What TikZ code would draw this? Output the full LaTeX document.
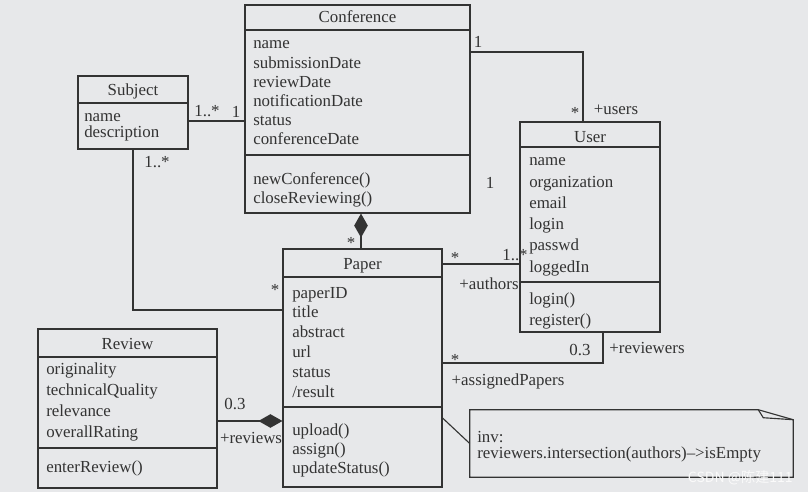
\documentclass[tikz,border=0pt]{standalone}
\usepackage{fontspec}
\setmainfont{Liberation Serif}
\newfontfamily\cjkfont{Noto Sans CJK SC}
\usetikzlibrary{arrows.meta, fit, calc}
\definecolor{ink}{HTML}{333333}
\definecolor{sheet}{HTML}{E7E8EA}
\definecolor{mark}{HTML}{FAFAFA}

\begin{document}
\begin{tikzpicture}[x=0.025cm, y=-0.025cm,
    classbox/.style={draw=ink, line width=0.8pt, inner sep=0pt, fit={#1}},
    txt/.style={font=\fontsize{12}{14}\selectfont, text=ink, inner sep=0pt, anchor=base west},
    ctitle/.style={txt, anchor=base},
    mult/.style={txt, anchor=base},
    sep/.style={draw=ink, line width=0.8pt},
    assoc/.style={draw=ink, line width=1.1pt},
    comp/.style={assoc, -{Diamond[length=0.6cm, width=0.34cm]}}]
  \fill[sheet] (0,0) rectangle (808,492);
  \useasboundingbox (0,0) rectangle (808,492);

  % Conference
  \node[classbox={(245,5) (470,213)}] (conf) {};
  \node[ctitle] (conf-t) at (357.5,22.5) {Conference};
  \draw[sep] (conf.west |- 0,30) -- (conf.east |- 0,30);
  \draw[sep] (conf.west |- 0,155) -- (conf.east |- 0,155);
  \foreach \t [count=\i from 0] in {name, submissionDate, reviewDate,
      notificationDate, status, conferenceDate}
    \node[txt] (conf-a\i) at (253,49+19.2*\i) {\t};
  \foreach \t [count=\i from 0] in {newConference(), closeReviewing()}
    \node[txt] (conf-m\i) at (253,185+18*\i) {\t};

  % Subject
  \node[classbox={(78,76) (188,149)}] (subj) {};
  \node[ctitle] (subj-t) at (133,95.5) {Subject};
  \draw[sep] (subj.west |- 0,103) -- (subj.east |- 0,103);
  \foreach \t [count=\i from 0] in {name, description}
    \node[txt] (subj-a\i) at (84,122+16*\i) {\t};

  % User
  \node[classbox={(520,122) (660,332)}] (user) {};
  \node[ctitle] (user-t) at (590,142.5) {User};
  \draw[sep] (user.west |- 0,147) -- (user.east |- 0,147);
  \draw[sep] (user.west |- 0,282) -- (user.east |- 0,282);
  \foreach \t [count=\i from 0] in {name, organization, email, login,
      passwd, loggedIn}
    \node[txt] (user-a\i) at (529,166+21.2*\i) {\t};
  \foreach \t [count=\i from 0] in {login(), register()}
    \node[txt] (user-m\i) at (529,304+21*\i) {\t};

  % Paper
  \node[classbox={(283,249) (442,487)}] (paper) {};
  \node[ctitle] (paper-t) at (362.5,269.5) {Paper};
  \draw[sep] (paper.west |- 0,277) -- (paper.east |- 0,277);
  \draw[sep] (paper.west |- 0,407) -- (paper.east |- 0,407);
  \foreach \t [count=\i from 0] in {paperID, title, abstract, url,
      status, /result}
    \node[txt] (paper-a\i) at (292,298+19.8*\i) {\t};
  \foreach \t [count=\i from 0] in {upload(), assign(), updateStatus()}
    \node[txt] (paper-m\i) at (292,435+19*\i) {\t};

  % Review
  \node[classbox={(38,329) (217,488)}] (review) {};
  \node[ctitle] (review-t) at (127.5,349.5) {Review};
  \draw[sep] (review.west |- 0,357) -- (review.east |- 0,357);
  \draw[sep] (review.west |- 0,448) -- (review.east |- 0,448);
  \foreach \t [count=\i from 0] in {originality, technicalQuality,
      relevance, overallRating}
    \node[txt] (review-a\i) at (46,374+21*\i) {\t};
  \node[txt] (review-m0) at (46,472) {enterReview()};

  % constraint note
  \node[inner sep=0pt, fit={(470,410) (793,477)}] (note) {};
  \draw[sep] (note.north west) -- ([xshift=-0.875cm]note.north east)
    -- ([yshift=-0.25cm]note.north east) -- (note.south east)
    -- (note.south west) -- cycle;
  \draw[sep] ([xshift=-0.875cm]note.north east)
    -- ([xshift=-0.75cm, yshift=-0.2cm]note.north east)
    -- ([yshift=-0.25cm]note.north east);
  \node[txt] (note-a0) at (477,442) {inv:};
  \node[txt] (note-a1) at (477,458) {reviewers.intersection(authors)--{}>isEmpty};

  % associations
  \draw[assoc] (subj.east |- 0,121) -- (conf.west |- 0,121);
  \draw[assoc] (subj.south) |- (paper.west |- 0,310);
  \draw[assoc] (conf.east |- 0,52) -| (user.north -| 583,0);
  \draw[assoc] (paper.east |- 0,264) -- (user.west |- 0,264);
  \draw[assoc] (user.south -| 603,0) |- (paper.east |- 0,363);
  \draw[comp] (paper.north -| 361,0) -- (conf.south -| 361,0);
  \draw[comp] (review.east |- 0,421) -- (paper.west |- 0,421);
  \draw[sep] (paper.east |- 0,418) -- (note.west);

  % multiplicities and roles
  \node[mult] (m1) at (207,117) {1..*};
  \node[mult] (m2) at (236,117.5) {1};
  \node[mult] (m3) at (157,167) {1..*};
  \node[mult] (m4) at (275,295) {*};
  \node[mult] (m5) at (351,248) {*};
  \node[mult] (m6) at (478,47.5) {1};
  \node[mult] (m7) at (575,119) {*};
  \node[mult] (m8) at (616,115) {+users};
  \node[mult] (m9) at (490,188) {1};
  \node[mult] (m10) at (455,263) {*};
  \node[mult] (m11) at (515,260) {1..*};
  \node[mult] (m12) at (489,289) {+authors};
  \node[mult] (m13) at (580,355) {0.3};
  \node[mult] (m14) at (647,353) {+reviewers};
  \node[mult] (m15) at (455,365) {*};
  \node[mult] (m16) at (508,385) {+assignedPapers};
  \node[mult] (m17) at (235,409) {0.3};
  \node[mult] (m18) at (251,443) {+reviews};

  \node[font=\cjkfont\fontsize{10}{12}\selectfont, text=mark, inner sep=0pt,
        anchor=base east] (wm) at (793,482) {CSDN @陈建111};
\end{tikzpicture}
\end{document}
